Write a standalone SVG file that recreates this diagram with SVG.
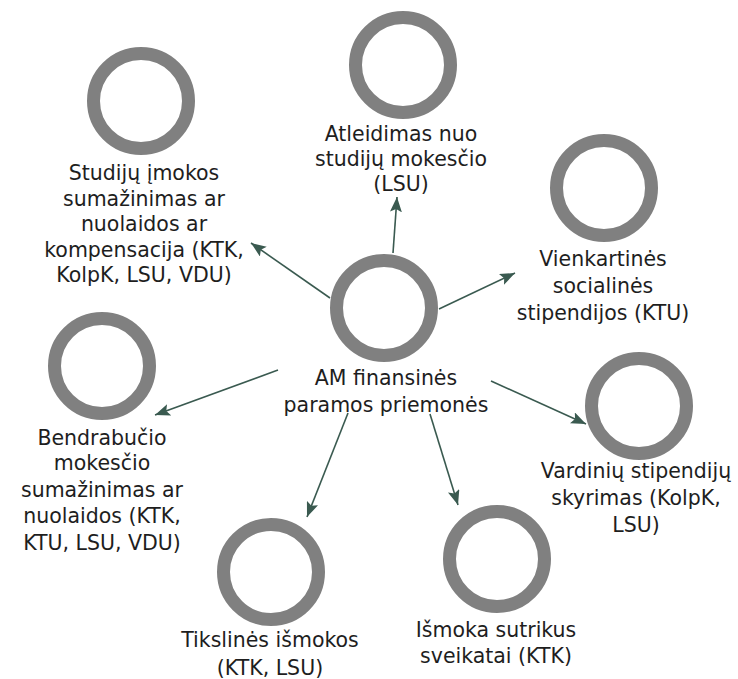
<svg xmlns="http://www.w3.org/2000/svg" width="738" height="679" viewBox="0 0 738 679">
<style>
.ring{fill:none;stroke:#808080;stroke-width:13}
.lbl{font-family:"DejaVu Sans",sans-serif;font-size:20.5px;fill:#1e1e1e;text-anchor:middle}
.con{stroke:#3a5a50;stroke-width:1.6;fill:none;marker-end:url(#ah)}
</style>
<defs>
<marker id="ah" markerUnits="userSpaceOnUse" markerWidth="16" markerHeight="12" refX="15" refY="6" orient="auto">
<path d="M0,0 L15,6 L0,12 L3,6 z" fill="#3a5a50"/>
</marker>
</defs>
<rect width="738" height="679" fill="#fff"/>
<g id="connectors">
<line class="con" x1="330" y1="298" x2="251" y2="243"/>
<line class="con" x1="393" y1="253" x2="397" y2="197"/>
<line class="con" x1="439" y1="309" x2="515" y2="273"/>
<line class="con" x1="491" y1="381" x2="586" y2="424"/>
<line class="con" x1="278" y1="370" x2="155" y2="415"/>
<line class="con" x1="348" y1="413" x2="307" y2="517"/>
<line class="con" x1="430" y1="414" x2="458" y2="505"/>
</g>
<g id="center">
<circle class="ring" cx="384" cy="308" r="47.5"/>
<text class="lbl"><tspan x="386" y="385">AM finansinės</tspan><tspan x="386" y="412">paramos priemonės</tspan></text>
</g>
<g id="studiju">
<circle class="ring" cx="141" cy="101" r="47.5"/>
<text class="lbl"><tspan x="144" y="180">Studijų įmokos</tspan><tspan x="144" y="206">sumažinimas ar</tspan><tspan x="144" y="231">nuolaidos ar</tspan><tspan x="144" y="257">kompensacija (KTK,</tspan><tspan x="144" y="282">KolpK, LSU, VDU)</tspan></text>
</g>
<g id="atleidimas">
<circle class="ring" cx="403" cy="65" r="47.5"/>
<text class="lbl"><tspan x="401" y="141">Atleidimas nuo</tspan><tspan x="401" y="166">studijų mokesčio</tspan><tspan x="401" y="191">(LSU)</tspan></text>
</g>
<g id="vienkartines">
<circle class="ring" cx="604" cy="188" r="47.5"/>
<text class="lbl"><tspan x="603" y="266">Vienkartinės</tspan><tspan x="603" y="293">socialinės</tspan><tspan x="603" y="320">stipendijos (KTU)</tspan></text>
</g>
<g id="vardiniu">
<circle class="ring" cx="639" cy="406" r="47.5"/>
<text class="lbl"><tspan x="636" y="478">Vardinių stipendijų</tspan><tspan x="636" y="505">skyrimas (KolpK,</tspan><tspan x="636" y="532">LSU)</tspan></text>
</g>
<g id="bendrabucio">
<circle class="ring" cx="102" cy="366" r="47.5"/>
<text class="lbl"><tspan x="102" y="445">Bendrabučio</tspan><tspan x="102" y="470">mokesčio</tspan><tspan x="102" y="497">sumažinimas ar</tspan><tspan x="102" y="523">nuolaidos (KTK,</tspan><tspan x="102" y="550">KTU, LSU, VDU)</tspan></text>
</g>
<g id="tikslines">
<circle class="ring" cx="271" cy="572" r="47.5"/>
<text class="lbl"><tspan x="270" y="647">Tikslinės išmokos</tspan><tspan x="270" y="675">(KTK, LSU)</tspan></text>
</g>
<g id="ismoka">
<circle class="ring" cx="497" cy="559" r="47.5"/>
<text class="lbl"><tspan x="496" y="637">Išmoka sutrikus</tspan><tspan x="496" y="663">sveikatai (KTK)</tspan></text>
</g>
</svg>
